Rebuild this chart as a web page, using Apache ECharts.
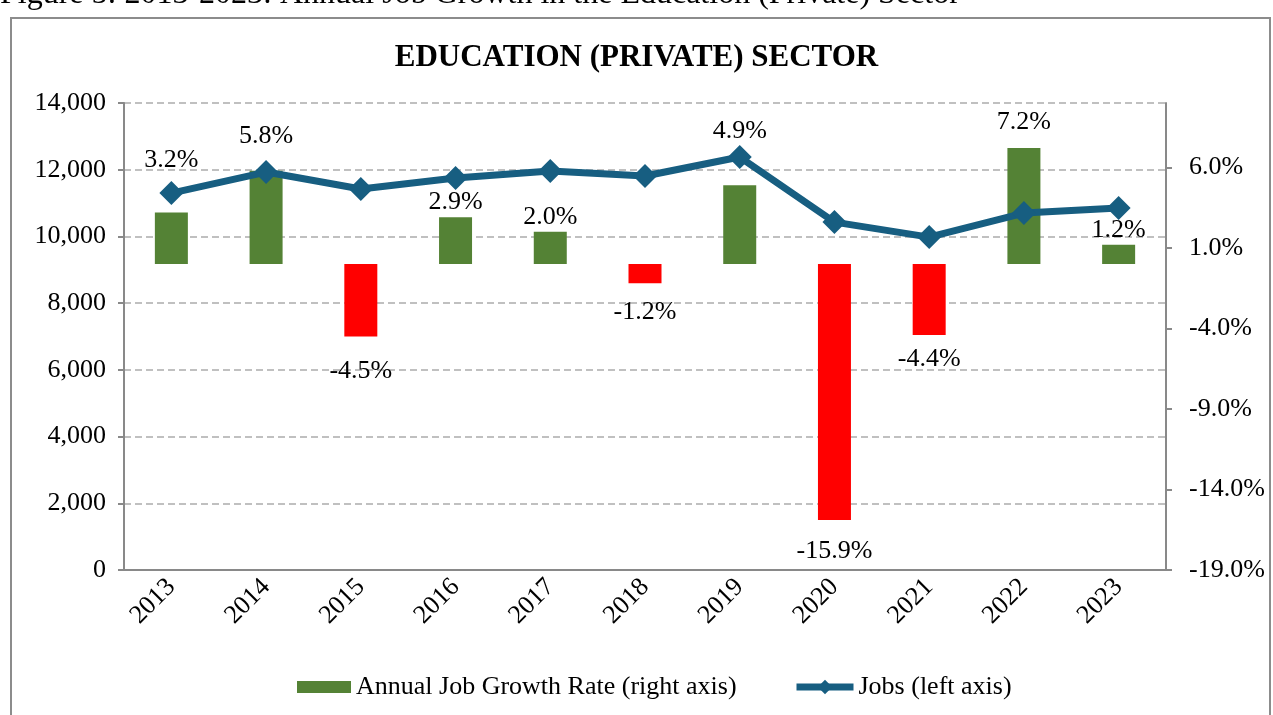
<!DOCTYPE html>
<html>
<head>
<meta charset="utf-8">
<script src="https://cdn.jsdelivr.net/npm/echarts@6/dist/echarts.min.js"></script>
<style>
  html, body { margin: 0; padding: 0; background: #fff; }
  #chart { width: 1273px; height: 715px; }
</style>
</head>
<body>
<div id="chart"></div>
<script>
var years = ['2013', '2014', '2015', '2016', '2017', '2018', '2019', '2020', '2021', '2022', '2023'];
var growthRate = [3.2, 5.8, -4.5, 2.9, 2.0, -1.2, 4.9, -15.9, -4.4, 7.2, 1.2];
var jobs = [11300, 11930, 11420, 11750, 11960, 11810, 12380, 10430, 9980, 10700, 10850];

var serif = '"Liberation Serif", "Times New Roman", serif';
var lineColor = '#175e81';
var labelGap = [39, 21, 22, 2, 2, 16, 41, 18, 11, 13, 2];

var barData = [];
for (var i = 0; i < growthRate.length; i++) {
    var neg = growthRate[i] < 0;
    barData.push({
        value: growthRate[i],
        itemStyle: { color: neg ? '#ff0000' : '#548235' },
        label: { position: neg ? 'bottom' : 'top', distance: labelGap[i] }
    });
}

var chart = echarts.init(document.getElementById('chart'));

var option = {
    animation: false,
    textStyle: { fontFamily: serif },
    graphic: [
        {
            type: 'text', left: 0, top: -21,
            style: { text: 'Figure 5: 2013-2023: Annual Job Growth in the Education (Private) Sector', font: '32px ' + serif, fill: '#000' }
        },
        {
            type: 'rect', shape: { x: 11, y: 18, width: 1259, height: 720 },
            style: { fill: 'none', stroke: '#8c8c8c', lineWidth: 2 }, z: -10
        }
    ],
    title: {
        text: 'EDUCATION (PRIVATE) SECTOR',
        left: 'center',
        top: 37,
        textStyle: { fontFamily: serif, fontWeight: 'bold', fontSize: 31, color: '#000' }
    },
    legend: [
        {
            left: 297,
            top: 674,
            padding: 0,
            itemWidth: 54,
            itemHeight: 12,
            icon: 'rect',
            textStyle: { fontFamily: serif, fontSize: 26, color: '#000' },
            data: ['Annual Job Growth Rate (right axis)']
        },
        {
            left: 793,
            top: 674,
            padding: 0,
            itemWidth: 57,
            itemHeight: 18,
            lineStyle: { width: 7 },
            textStyle: { fontFamily: serif, fontSize: 26, color: '#000' },
            data: ['Jobs (left axis)']
        }
    ],
    grid: { left: 124, right: 107, top: 103, bottom: 145 },
    xAxis: {
        type: 'category',
        data: years,
        boundaryGap: true,
        axisLine: { lineStyle: { color: '#898989', width: 2 } },
        axisTick: { alignWithLabel: false, length: 7, lineStyle: { color: '#898989', width: 2 } },
        axisLabel: { rotate: 45, fontSize: 26, color: '#000', fontFamily: serif, margin: 13 }
    },
    yAxis: [
        {
            type: 'value',
            min: 0, max: 14000, interval: 2000,
            axisLine: { show: true, lineStyle: { color: '#898989', width: 2 } },
            axisTick: { show: true, length: 6, lineStyle: { color: '#898989', width: 2 } },
            axisLabel: {
                fontSize: 26, color: '#000', fontFamily: serif, margin: 18,
                formatter: function (v) { return v.toLocaleString('en-US'); }
            },
            splitLine: { lineStyle: { color: '#c0c0c0', width: 2, type: [7, 4] } }
        },
        {
            type: 'value',
            position: 'right',
            min: -19, max: 10, interval: 5,
            axisLine: { show: true, lineStyle: { color: '#898989', width: 2 } },
            axisTick: { show: true, length: 6, lineStyle: { color: '#898989', width: 2 } },
            axisLabel: {
                fontSize: 26, color: '#000', fontFamily: serif, margin: 23, showMaxLabel: false,
                formatter: function (v) { return v.toFixed(1) + '%'; }
            },
            splitLine: { show: false }
        }
    ],
    series: [
        {
            name: 'Annual Job Growth Rate (right axis)',
            type: 'bar',
            yAxisIndex: 1,
            barWidth: 33,
            itemStyle: { color: '#548235' },
            label: {
                show: true, color: '#000', fontSize: 26, fontFamily: serif,
                formatter: function (p) { return p.value.toFixed(1) + '%'; }
            },
            data: barData
        },
        {
            name: 'Jobs (left axis)',
            type: 'line',
            yAxisIndex: 0,
            symbol: 'diamond',
            symbolSize: 24,
            lineStyle: { color: lineColor, width: 7 },
            itemStyle: { color: lineColor },
            z: 5,
            data: jobs
        }
    ]
};

option && chart.setOption(option);
</script>
</body>
</html>
